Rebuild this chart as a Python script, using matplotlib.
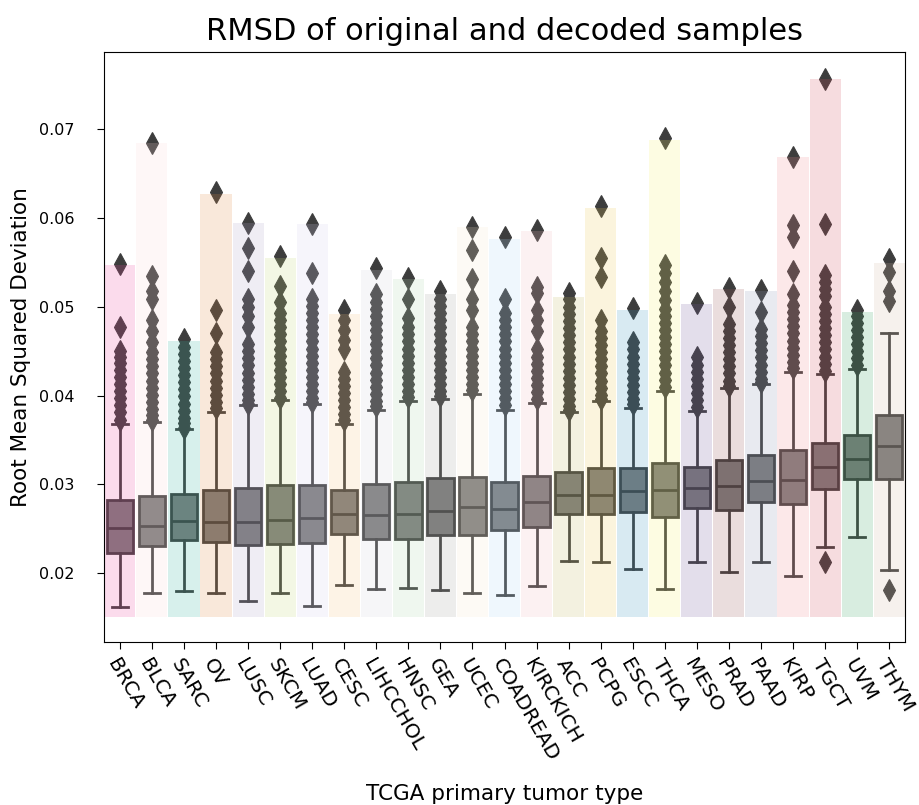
#!/usr/bin/env python
"""Boxplots of RMSD between original and decoded samples per TCGA tumor type."""
from __future__ import annotations

import matplotlib

matplotlib.use("Agg")
import matplotlib.pyplot as plt
from matplotlib.colors import to_rgba

# values
tumor_types = [
    "BRCA", "BLCA", "SARC", "OV", "LUSC", "SKCM", "LUAD", "CESC", "LIHCCHOL",
    "HNSC", "GEA", "UCEC", "COADREAD", "KIRCKICH", "ACC", "PCPG", "ESCC",
    "THCA", "MESO", "PRAD", "PAAD", "KIRP", "TGCT", "UVM", "THYM",
]
whisker_low = [0.0162, 0.0177, 0.0180, 0.0177, 0.0168, 0.0177, 0.0163, 0.0186, 0.0182,
               0.0183, 0.0181, 0.0177, 0.0175, 0.0185, 0.0214, 0.0212, 0.0204,
               0.0182, 0.0212, 0.0201, 0.0212, 0.0197, 0.0229, 0.0241, 0.0203]
q1 = [0.0223, 0.0230, 0.0237, 0.0235, 0.0232, 0.0233, 0.0234, 0.0244, 0.0238,
      0.0238, 0.0243, 0.0243, 0.0248, 0.0252, 0.0266, 0.0266, 0.0269,
      0.0263, 0.0273, 0.0271, 0.0280, 0.0278, 0.0295, 0.0306, 0.0306]
median = [0.0251, 0.0253, 0.0259, 0.0257, 0.0258, 0.0260, 0.0262, 0.0267, 0.0265,
          0.0266, 0.0270, 0.0274, 0.0272, 0.0280, 0.0288, 0.0288, 0.0292,
          0.0294, 0.0296, 0.0298, 0.0304, 0.0305, 0.0320, 0.0328, 0.0343]
q3 = [0.0282, 0.0287, 0.0289, 0.0294, 0.0296, 0.0299, 0.0299, 0.0294, 0.0300,
      0.0303, 0.0307, 0.0308, 0.0303, 0.0309, 0.0314, 0.0318, 0.0318,
      0.0324, 0.0320, 0.0327, 0.0333, 0.0339, 0.0347, 0.0356, 0.0378]
whisker_high = [0.0368, 0.0370, 0.0362, 0.0382, 0.0389, 0.0395, 0.0391, 0.0368, 0.0384,
                0.0394, 0.0396, 0.0402, 0.0384, 0.0392, 0.0382, 0.0394, 0.0386,
                0.0405, 0.0383, 0.0409, 0.0413, 0.0427, 0.0424, 0.0430, 0.0470]
max_rmsd = [0.0547, 0.0685, 0.0461, 0.0627, 0.0595, 0.0555, 0.0594, 0.0492, 0.0542,
            0.0531, 0.0514, 0.0590, 0.0577, 0.0586, 0.0511, 0.0611, 0.0496,
            0.0688, 0.0503, 0.0520, 0.0518, 0.0669, 0.0757, 0.0494, 0.0550]
outliers = [
    [0.0548, 0.0477, 0.0450, 0.0444, 0.0437, 0.0429, 0.0421, 0.0413, 0.0405, 0.0397, 0.0389, 0.0381, 0.0373],
    [0.0685, 0.0535, 0.0518, 0.0509, 0.0485, 0.0473, 0.0460, 0.0449, 0.0441, 0.0433, 0.0425, 0.0417,
     0.0409, 0.0401, 0.0393, 0.0385, 0.0378, 0.0372],
    [0.0464, 0.0455, 0.0447, 0.0439, 0.0431, 0.0423, 0.0415, 0.0407, 0.0399, 0.0391, 0.0383, 0.0375,
     0.0369, 0.0364],
    [0.0629, 0.0496, 0.0470, 0.0449, 0.0441, 0.0433, 0.0425, 0.0417, 0.0409, 0.0401, 0.0393, 0.0386],
    [0.0595, 0.0566, 0.0540, 0.0509, 0.0500, 0.0490, 0.0477, 0.0458, 0.0450, 0.0442, 0.0434, 0.0426,
     0.0418, 0.0410, 0.0402, 0.0395, 0.0391],
    [0.0557, 0.0524, 0.0505, 0.0493, 0.0485, 0.0477, 0.0469, 0.0461, 0.0453, 0.0445, 0.0437, 0.0429,
     0.0421, 0.0413, 0.0405, 0.0397],
    [0.0594, 0.0538, 0.0509, 0.0501, 0.0493, 0.0485, 0.0477, 0.0469, 0.0461, 0.0453, 0.0445, 0.0437,
     0.0429, 0.0421, 0.0413, 0.0405, 0.0397, 0.0393],
    [0.0496, 0.0485, 0.0474, 0.0463, 0.0452, 0.0427, 0.0419, 0.0411, 0.0403, 0.0395, 0.0387, 0.0379,
     0.0372],
    [0.0544, 0.0514, 0.0506, 0.0498, 0.0490, 0.0482, 0.0474, 0.0466, 0.0458, 0.0450, 0.0442, 0.0434,
     0.0426, 0.0418, 0.0410, 0.0402, 0.0394, 0.0388],
    [0.0533, 0.0509, 0.0487, 0.0477, 0.0469, 0.0461, 0.0453, 0.0445, 0.0437, 0.0429, 0.0421, 0.0413,
     0.0405, 0.0398],
    [0.0518, 0.0509, 0.0501, 0.0493, 0.0485, 0.0477, 0.0469, 0.0461, 0.0453, 0.0445, 0.0437, 0.0429,
     0.0421, 0.0413, 0.0405, 0.0399],
    [0.0590, 0.0564, 0.0531, 0.0509, 0.0497, 0.0477, 0.0469, 0.0461, 0.0453, 0.0445, 0.0437, 0.0429,
     0.0421, 0.0413, 0.0406],
    [0.0579, 0.0509, 0.0493, 0.0485, 0.0477, 0.0469, 0.0461, 0.0453, 0.0445, 0.0437, 0.0429, 0.0421,
     0.0413, 0.0405, 0.0397, 0.0389],
    [0.0587, 0.0522, 0.0516, 0.0497, 0.0485, 0.0473, 0.0452, 0.0444, 0.0436, 0.0428, 0.0420, 0.0412,
     0.0404, 0.0396],
    [0.0516, 0.0509, 0.0500, 0.0492, 0.0484, 0.0476, 0.0468, 0.0460, 0.0452, 0.0444, 0.0436, 0.0428,
     0.0420, 0.0412, 0.0404, 0.0396, 0.0388, 0.0384],
    [0.0614, 0.0555, 0.0534, 0.0485, 0.0473, 0.0465, 0.0457, 0.0449, 0.0441, 0.0433, 0.0425, 0.0417,
     0.0409, 0.0401, 0.0396],
    [0.0499, 0.0460, 0.0452, 0.0444, 0.0436, 0.0428, 0.0420, 0.0412, 0.0404, 0.0396, 0.0390],
    [0.0690, 0.0547, 0.0538, 0.0528, 0.0518, 0.0508, 0.0498, 0.0490, 0.0482, 0.0474, 0.0466, 0.0458,
     0.0450, 0.0442, 0.0434, 0.0426, 0.0418, 0.0410],
    [0.0504, 0.0443, 0.0435, 0.0427, 0.0419, 0.0411, 0.0403, 0.0395, 0.0387],
    [0.0521, 0.0500, 0.0481, 0.0473, 0.0465, 0.0457, 0.0449, 0.0441, 0.0433, 0.0425, 0.0417, 0.0411],
    [0.0519, 0.0494, 0.0475, 0.0467, 0.0459, 0.0451, 0.0443, 0.0435, 0.0427, 0.0419, 0.0415],
    [0.0669, 0.0592, 0.0579, 0.0541, 0.0515, 0.0502, 0.0494, 0.0486, 0.0478, 0.0470, 0.0462, 0.0454,
     0.0446, 0.0438, 0.0431],
    [0.0757, 0.0594, 0.0536, 0.0528, 0.0520, 0.0512, 0.0500, 0.0492, 0.0484, 0.0476, 0.0468, 0.0460,
     0.0452, 0.0444, 0.0436, 0.0428, 0.0212],
    [0.0496, 0.0490, 0.0482, 0.0474, 0.0466, 0.0458, 0.0450, 0.0442, 0.0434],
    [0.0554, 0.0539, 0.0518, 0.0507, 0.0181],
]
bar_colors = [
    "#eb4ba0", "#fad7d7", "#37b4a0", "#e18c46", "#afa5c8", "#c3d778", "#d2cdeb",
    "#f5c382", "#d2d2dc", "#afd7af", "#a5a5a0", "#f5e6cd", "#afd7f5", "#f0b9be",
    "#c3b964", "#ebc855", "#3c96be", "#f5f06e", "#735a9b", "#965555", "#8c96b4",
    "#f08c91", "#d2505f", "#3ca564", "#d2b9a5",
]
BAR_BOTTOM = 0.015

LINE = "#3d3d3d"
FACE = "#797979"


def box_stats() -> list[dict]:
    stats = []
    for i, name in enumerate(tumor_types):
        stats.append({
            "label": name,
            "whislo": whisker_low[i],
            "q1": q1[i],
            "med": median[i],
            "q3": q3[i],
            "whishi": whisker_high[i],
            "fliers": outliers[i],
        })
    return stats


def main() -> None:
    fig, ax = plt.subplots(figsize=(9.19, 8.05), dpi=100)
    fig.subplots_adjust(left=0.113, right=0.985, top=0.935, bottom=0.2025)
    pos = list(range(len(tumor_types)))

    lw = 2.0
    ax.bxp(
        box_stats(),
        positions=pos,
        widths=0.82,
        capwidths=0.5,
        patch_artist=True,
        boxprops=dict(facecolor=FACE, edgecolor=LINE, linewidth=lw),
        medianprops=dict(color=LINE, linewidth=lw),
        whiskerprops=dict(color=LINE, linewidth=lw),
        capprops=dict(color=LINE, linewidth=lw),
        flierprops=dict(marker="d", markerfacecolor=LINE, markeredgecolor=LINE,
                        markersize=11, markeredgewidth=0.8),
        zorder=2,
    )

    heights = [m - BAR_BOTTOM for m in max_rmsd]
    ax.bar(pos, heights, bottom=BAR_BOTTOM, width=0.97,
           color=[to_rgba(c, 0.2) for c in bar_colors], linewidth=0, zorder=2.2)

    ax.set_xlim(-0.5, len(tumor_types) - 0.5)
    ax.set_ylim(0.01222, 0.0787)
    ax.set_xticks(pos)
    ax.set_xticklabels(tumor_types, rotation=-60, ha="left", va="top",
                       rotation_mode="anchor", fontsize=14.5)
    ax.tick_params(axis="x", pad=5)
    ax.tick_params(axis="y", labelsize=11.5, pad=16)
    ax.tick_params(length=5)
    ax.set_yticks([0.02, 0.03, 0.04, 0.05, 0.06, 0.07])

    ax.set_title("RMSD of original and decoded samples", fontsize=22, pad=9)
    ax.set_xlabel("TCGA primary tumor type", fontsize=15.5, labelpad=14)
    ax.set_ylabel("Root Mean Squared Deviation", fontsize=15.5, labelpad=6)

    fig.savefig("out.png", dpi=100)
    plt.close(fig)


if __name__ == "__main__":
    main()
